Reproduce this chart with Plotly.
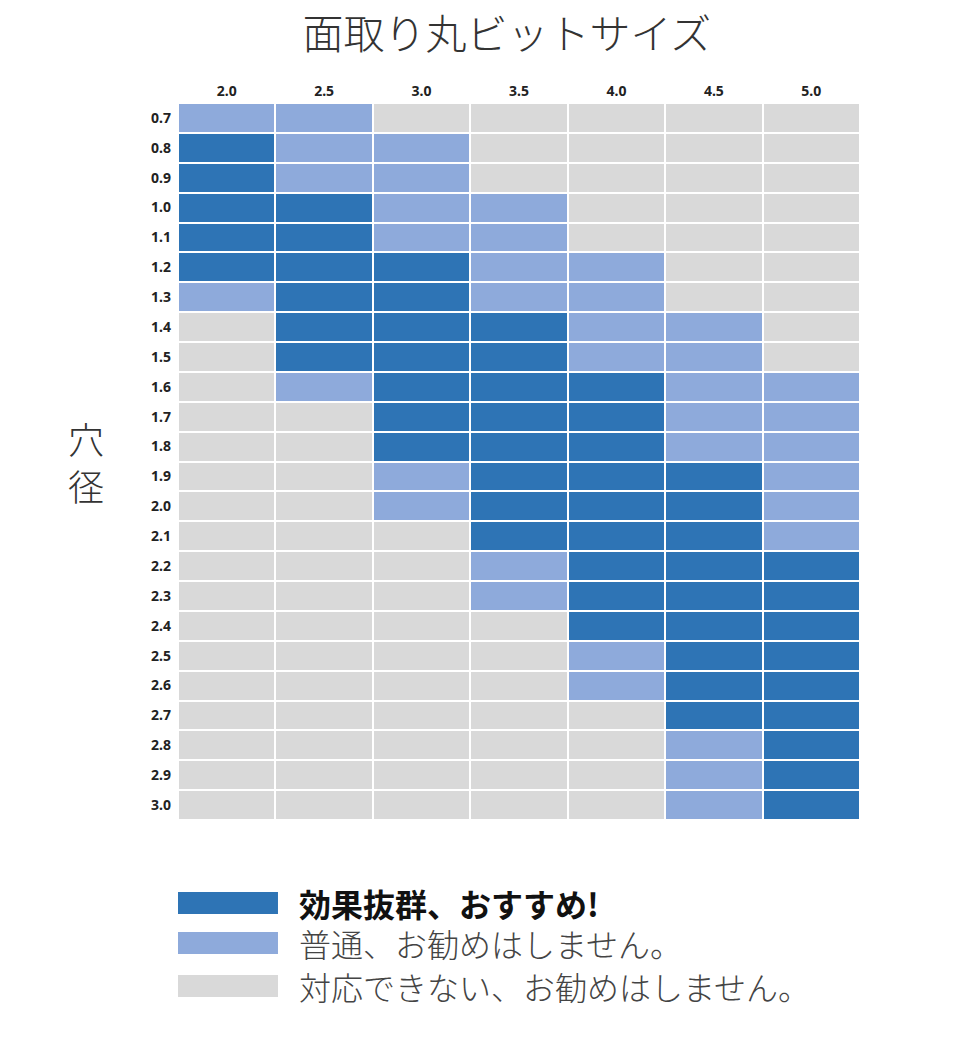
import plotly.graph_objects as go

# bit sizes (columns) and hole diameters (rows)
bit_sizes = ["2.0", "2.5", "3.0", "3.5", "4.0", "4.5", "5.0"]
hole_sizes = ["0.7", "0.8", "0.9", "1.0", "1.1", "1.2", "1.3", "1.4", "1.5", "1.6", "1.7", "1.8",
              "1.9", "2.0", "2.1", "2.2", "2.3", "2.4", "2.5", "2.6", "2.7", "2.8", "2.9", "3.0"]

# 2 = recommended, 1 = ok, 0 = not supported
levels = [
    [1, 1, 0, 0, 0, 0, 0],
    [2, 1, 1, 0, 0, 0, 0],
    [2, 1, 1, 0, 0, 0, 0],
    [2, 2, 1, 1, 0, 0, 0],
    [2, 2, 1, 1, 0, 0, 0],
    [2, 2, 2, 1, 1, 0, 0],
    [1, 2, 2, 1, 1, 0, 0],
    [0, 2, 2, 2, 1, 1, 0],
    [0, 2, 2, 2, 1, 1, 0],
    [0, 1, 2, 2, 2, 1, 1],
    [0, 0, 2, 2, 2, 1, 1],
    [0, 0, 2, 2, 2, 1, 1],
    [0, 0, 1, 2, 2, 2, 1],
    [0, 0, 1, 2, 2, 2, 1],
    [0, 0, 0, 2, 2, 2, 1],
    [0, 0, 0, 1, 2, 2, 2],
    [0, 0, 0, 1, 2, 2, 2],
    [0, 0, 0, 0, 2, 2, 2],
    [0, 0, 0, 0, 1, 2, 2],
    [0, 0, 0, 0, 1, 2, 2],
    [0, 0, 0, 0, 0, 2, 2],
    [0, 0, 0, 0, 0, 1, 2],
    [0, 0, 0, 0, 0, 1, 2],
    [0, 0, 0, 0, 0, 1, 2],
]

legend_labels = ["効果抜群、おすすめ!", "普通、お勧めはしません。", "対応できない、お勧めはしません。"]

GRAY = "#d9d9d9"
LIGHT = "#8eaadb"
DARK = "#2e74b5"
colors = [DARK, LIGHT, GRAY]

fig = go.Figure(go.Heatmap(
    x=bit_sizes,
    y=hole_sizes,
    z=levels,
    zmin=0, zmax=2,
    colorscale=[[0, GRAY], [0.333, GRAY], [0.333, LIGHT], [0.667, LIGHT], [0.667, DARK], [1, DARK]],
    showscale=False,
    xgap=2, ygap=2,
    hoverinfo="skip",
))

jp_font = "Noto Sans CJK JP"
tick_font = dict(family="Noto Sans", size=14, color="#222", weight="bold")

fig.update_layout(
    width=980, height=1057,
    margin=dict(l=170, r=128, t=95, b=245),
    plot_bgcolor="white", paper_bgcolor="white",
    title=dict(text="面取り丸ビットサイズ", x=0.509, xanchor="center", y=0.975, yanchor="middle",
               font=dict(family=jp_font, size=41, color="#333", weight=300)),
    xaxis=dict(side="top", type="category", showgrid=False, zeroline=False, ticks="",
               tickfont=tick_font, ticklabelstandoff=3),
    yaxis=dict(type="category", autorange="reversed", showgrid=False, zeroline=False, ticks="",
               tickfont=tick_font, ticklabelstandoff=6),
)

# vertical axis title
fig.add_annotation(text="穴<br>径", xref="paper", yref="paper", x=-0.135, y=0.5,
                   xanchor="center", yanchor="middle", showarrow=False,
                   font=dict(family=jp_font, size=36, color="#333", weight=300))

# custom legend below the grid
legend_y = [-0.1158, -0.1715, -0.2315]
for i, label in enumerate(legend_labels):
    fig.add_shape(type="rect", xref="paper", yref="paper",
                  x0=0, x1=0.1466, y0=legend_y[i] - 0.0153, y1=legend_y[i] + 0.0153,
                  fillcolor=colors[i], line_width=0)
    fig.add_annotation(text=label, xref="paper", yref="paper", x=0.1745, y=legend_y[i],
                       xanchor="left", yanchor="middle", showarrow=False,
                       font=dict(family=jp_font, size=32,
                                 color="#111" if i == 0 else "#444",
                                 weight="bold" if i == 0 else 300))

fig.write_html("out.html")
